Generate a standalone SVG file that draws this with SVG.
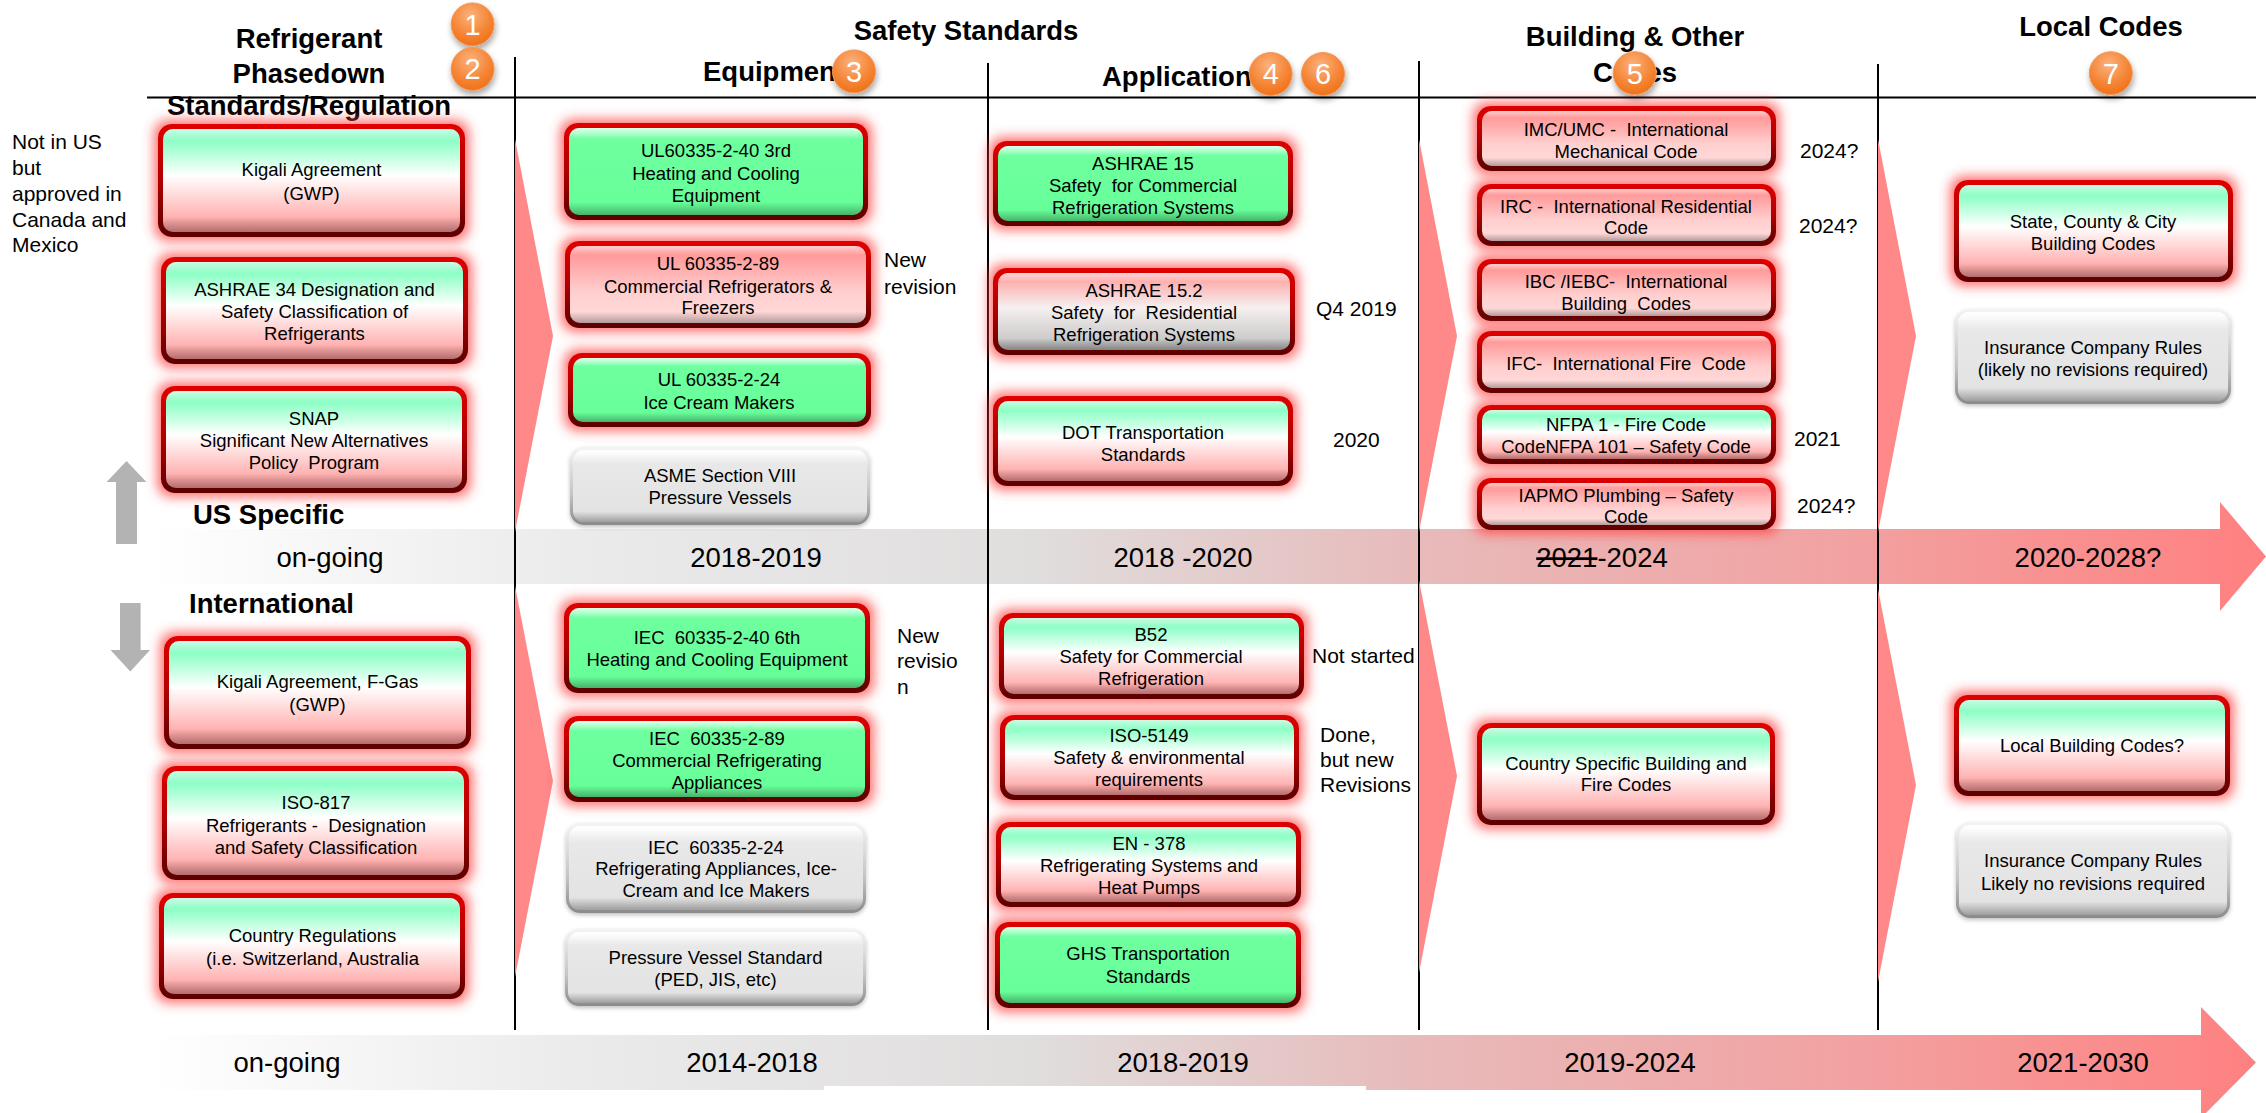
<svg xmlns="http://www.w3.org/2000/svg" width="2266" height="1113" viewBox="0 0 2266 1113">
<defs>
<style>
text{font-family:"Liberation Sans",Arial,sans-serif;fill:#000}
.h{font-size:27.5px;font-weight:bold}
.hm{font-size:27.5px;font-weight:bold;text-anchor:middle}
.t{font-size:27.5px;text-anchor:middle}
.b{font-size:18.5px;text-anchor:middle}
.a{font-size:21px}
.n{font-size:29px;fill:#fff;text-anchor:middle}
.rr{fill:url(#rimR);filter:url(#glow)}
.rg{fill:url(#rimG);filter:url(#dsh)}
.bv{fill:url(#bev)}
.vl{stroke:#000;stroke-width:2;fill:none}
.chev{fill:#ff8888}
.arr{fill:#b3b3b3}
.circ{fill:url(#org);stroke:#f39a5c;stroke-width:1;filter:url(#sh)}
</style>
<linearGradient id="band" gradientUnits="userSpaceOnUse" x1="150" y1="0" x2="2266" y2="0">
<stop offset="0" stop-color="#ffffff"/>
<stop offset="0.2" stop-color="#ebebeb"/>
<stop offset="0.42" stop-color="#e0dddd"/>
<stop offset="0.6" stop-color="#e8baba"/>
<stop offset="0.8" stop-color="#f2a2a2"/>
<stop offset="1" stop-color="#ff8080"/>
</linearGradient>
<linearGradient id="rimR" x1="0" y1="0" x2="0" y2="1">
<stop offset="0" stop-color="#e00000"/>
<stop offset="0.5" stop-color="#b00000"/>
<stop offset="1" stop-color="#5a0000"/>
</linearGradient>
<linearGradient id="rimG" x1="0" y1="0" x2="0" y2="1">
<stop offset="0" stop-color="#f4f4f4"/>
<stop offset="0.6" stop-color="#c4c4c4"/>
<stop offset="1" stop-color="#8a8a8a"/>
</linearGradient>
<linearGradient id="bev" x1="0" y1="0" x2="0" y2="1">
<stop offset="0" stop-color="#fff" stop-opacity="0.6"/>
<stop offset="0.12" stop-color="#fff" stop-opacity="0"/>
<stop offset="0.85" stop-color="#000" stop-opacity="0"/>
<stop offset="1" stop-color="#000" stop-opacity="0.3"/>
</linearGradient>
<linearGradient id="mwp" x1="0" y1="0" x2="0" y2="1">
<stop offset="0" stop-color="#7ff7bd"/>
<stop offset="0.12" stop-color="#8dffc6"/>
<stop offset="0.45" stop-color="#ffffff"/>
<stop offset="0.85" stop-color="#ffb3b3"/>
<stop offset="1" stop-color="#ff9c9c"/>
</linearGradient>
<linearGradient id="grn" x1="0" y1="0" x2="0" y2="1">
<stop offset="0" stop-color="#a5ffc9"/>
<stop offset="0.14" stop-color="#6eff9f"/>
<stop offset="1" stop-color="#66ff99"/>
</linearGradient>
<linearGradient id="pnk" x1="0" y1="0" x2="0" y2="1">
<stop offset="0" stop-color="#ff8f8f"/>
<stop offset="0.15" stop-color="#ff9d9d"/>
<stop offset="0.6" stop-color="#ffcfcf"/>
<stop offset="1" stop-color="#ffdcdc"/>
</linearGradient>
<linearGradient id="pwg" x1="0" y1="0" x2="0" y2="1">
<stop offset="0" stop-color="#ff9a9a"/>
<stop offset="0.45" stop-color="#f6f0f0"/>
<stop offset="1" stop-color="#bdbdbd"/>
</linearGradient>
<linearGradient id="gry" x1="0" y1="0" x2="0" y2="1">
<stop offset="0" stop-color="#ffffff"/>
<stop offset="0.2" stop-color="#e8e8e8"/>
<stop offset="1" stop-color="#e2e2e2"/>
</linearGradient>
<radialGradient id="org" cx="0.45" cy="0.3" r="0.75">
<stop offset="0" stop-color="#fbb27e"/>
<stop offset="0.6" stop-color="#f58535"/>
<stop offset="1" stop-color="#ee6e14"/>
</radialGradient>
<filter id="glow" x="-15%" y="-40%" width="130%" height="180%">
<feMorphology in="SourceAlpha" operator="dilate" radius="4" result="d"/>
<feGaussianBlur in="d" stdDeviation="6" result="b"/>
<feFlood flood-color="#ff4040" flood-opacity="0.75" result="c"/>
<feComposite in="c" in2="b" operator="in" result="g"/>
<feMerge><feMergeNode in="g"/><feMergeNode in="SourceGraphic"/></feMerge>
</filter>
<filter id="dsh" x="-10%" y="-20%" width="120%" height="150%">
<feGaussianBlur in="SourceAlpha" stdDeviation="2"/>
<feOffset dx="0" dy="2" result="o"/>
<feComponentTransfer><feFuncA type="linear" slope="0.25"/></feComponentTransfer>
<feMerge><feMergeNode/><feMergeNode in="SourceGraphic"/></feMerge>
</filter>
<filter id="sh" x="-50%" y="-50%" width="200%" height="200%">
<feGaussianBlur in="SourceAlpha" stdDeviation="3"/>
<feOffset dx="1" dy="4" result="o"/>
<feComponentTransfer><feFuncA type="linear" slope="0.35"/></feComponentTransfer>
<feMerge><feMergeNode/><feMergeNode in="SourceGraphic"/></feMerge>
</filter>
</defs>
<rect width="2266" height="1113" fill="#fff"/>

<g id="timeline-bands">
<path d="M150,529 H2220 V502 L2266,556.5 L2220,611 V584 H150 Z" fill="url(#band)"/>
<path d="M150,1035 H2201 V1007 L2256,1062.5 L2201,1118 V1090 H150 Z" fill="url(#band)"/>
<rect x="824" y="1086" width="542" height="6" fill="#fff"/>
</g>

<g id="connectors">
<line class="vl" x1="147" y1="97.5" x2="2256" y2="97.5"/>
<line class="vl" x1="515" y1="57" x2="515" y2="1030"/>
<line class="vl" x1="988" y1="63" x2="988" y2="1030"/>
<line class="vl" x1="1419" y1="61" x2="1419" y2="1030"/>
<line class="vl" x1="1878" y1="64" x2="1878" y2="1030"/>
<polygon class="chev" points="515,139 553,336 515,532"/>
<polygon class="chev" points="515,586 553,781 515,977"/>
<polygon class="chev" points="1419,139 1457,336 1419,532"/>
<polygon class="chev" points="1419,580 1457,776 1419,973"/>
<polygon class="chev" points="1878,139 1916,336 1878,532"/>
<polygon class="chev" points="1878,589 1916,785 1878,982"/>
<polygon class="arr" points="126.5,461 146.4,482 137,482 137,544 116,544 116,482 106.6,482"/>
<polygon class="arr" points="120,603 140.6,603 140.6,650 150,650 130.3,671.5 110.5,650 120,650"/>
</g>

<g id="headers">
<text class="hm" x="309" y="48">Refrigerant</text>
<text class="hm" x="309" y="83">Phasedown</text>
<text class="hm" x="309" y="115">Standards/Regulation</text>
<text class="hm" x="966" y="40">Safety Standards</text>
<text class="h" x="703" y="81">Equipment</text>
<text class="h" x="1102" y="86">Application</text>
<text class="hm" x="1635" y="46">Building &amp; Other</text>
<text class="hm" x="1635" y="82">Codes</text>
<text class="hm" x="2101" y="36">Local Codes</text>
<text class="h" x="193" y="524">US Specific</text>
<text class="h" x="189" y="613">International</text>
</g>

<g id="timeline-labels">
<text class="t" x="330" y="567">on-going</text>
<text class="t" x="756" y="567">2018-2019</text>
<text class="t" x="1183" y="567">2018 -2020</text>
<text class="t" x="1602" y="567"><tspan text-decoration="line-through">2021</tspan>-2024</text>
<text class="t" x="2088" y="567">2020-2028?</text>
<text class="t" x="287" y="1072">on-going</text>
<text class="t" x="752" y="1072">2014-2018</text>
<text class="t" x="1183" y="1072">2018-2019</text>
<text class="t" x="1630" y="1072">2019-2024</text>
<text class="t" x="2083" y="1072">2021-2030</text>
</g>

<g id="annotations">
<text class="a" x="12" y="149">Not in US</text>
<text class="a" x="12" y="175">but</text>
<text class="a" x="12" y="201">approved in</text>
<text class="a" x="12" y="227">Canada and</text>
<text class="a" x="12" y="252">Mexico</text>
<text class="a" x="884" y="267">New</text>
<text class="a" x="884" y="293.5">revision</text>
<text class="a" x="1316" y="316">Q4 2019</text>
<text class="a" x="1333" y="447">2020</text>
<text class="a" x="1800" y="158">2024?</text>
<text class="a" x="1799" y="233">2024?</text>
<text class="a" x="1794" y="446">2021</text>
<text class="a" x="1797" y="513">2024?</text>
<text class="a" x="897" y="643">New</text>
<text class="a" x="897" y="668">revisio</text>
<text class="a" x="897" y="693.5">n</text>
<text class="a" x="1312" y="663">Not started</text>
<text class="a" x="1320" y="742">Done,</text>
<text class="a" x="1320" y="767">but new</text>
<text class="a" x="1320" y="792">Revisions</text>
</g>

<g id="n-kigali-us"><rect class="rr" x="158" y="124" width="307" height="113" rx="14"/><rect x="163" y="129" width="297" height="103" rx="10" fill="url(#mwp)"/><rect class="bv" x="163" y="129" width="297" height="103" rx="10"/><text class="b"><tspan x="311.5" y="176">Kigali Agreement</tspan><tspan x="311.5" y="200">(GWP)</tspan></text></g>
<g id="n-ashrae34"><rect class="rr" x="161" y="257" width="307" height="107" rx="14"/><rect x="166" y="262" width="297" height="97" rx="10" fill="url(#mwp)"/><rect class="bv" x="166" y="262" width="297" height="97" rx="10"/><text class="b"><tspan x="314.5" y="296">ASHRAE 34 Designation and</tspan><tspan x="314.5" y="318">Safety Classification of</tspan><tspan x="314.5" y="340">Refrigerants</tspan></text></g>
<g id="n-snap"><rect class="rr" x="161" y="386" width="306" height="107" rx="14"/><rect x="166" y="391" width="296" height="97" rx="10" fill="url(#mwp)"/><rect class="bv" x="166" y="391" width="296" height="97" rx="10"/><text class="b" xml:space="preserve"><tspan x="314" y="425">SNAP</tspan><tspan x="314" y="447">Significant New Alternatives</tspan><tspan x="314" y="469">Policy  Program</tspan></text></g>

<g id="n-ul-2-40"><rect class="rr" x="564" y="123" width="304" height="97" rx="14"/><rect x="569" y="128" width="294" height="87" rx="10" fill="url(#grn)"/><rect class="bv" x="569" y="128" width="294" height="87" rx="10"/><text class="b"><tspan x="716" y="157">UL60335-2-40 3rd</tspan><tspan x="716" y="180">Heating and Cooling</tspan><tspan x="716" y="202">Equipment</tspan></text></g>
<g id="n-ul-2-89"><rect class="rr" x="565" y="241" width="306" height="87" rx="14"/><rect x="570" y="246" width="296" height="77" rx="10" fill="url(#pnk)"/><rect class="bv" x="570" y="246" width="296" height="77" rx="10"/><text class="b"><tspan x="718" y="270">UL 60335-2-89</tspan><tspan x="718" y="293">Commercial Refrigerators &amp;</tspan><tspan x="718" y="314">Freezers</tspan></text></g>
<g id="n-ul-2-24"><rect class="rr" x="568" y="353" width="303" height="74" rx="14"/><rect x="573" y="358" width="293" height="64" rx="10" fill="url(#grn)"/><rect class="bv" x="573" y="358" width="293" height="64" rx="10"/><text class="b"><tspan x="719" y="386">UL 60335-2-24</tspan><tspan x="719" y="409">Ice Cream Makers</tspan></text></g>
<g id="n-asme"><rect class="rg" x="570" y="447" width="300" height="78" rx="14"/><rect x="573" y="450" width="294" height="72" rx="11" fill="url(#gry)"/><rect class="bv" x="573" y="450" width="294" height="72" rx="11"/><text class="b"><tspan x="720" y="482">ASME Section VIII</tspan><tspan x="720" y="504">Pressure Vessels</tspan></text></g>

<g id="n-ashrae15"><rect class="rr" x="993" y="141" width="300" height="85" rx="14"/><rect x="998" y="146" width="290" height="75" rx="10" fill="url(#grn)"/><rect class="bv" x="998" y="146" width="290" height="75" rx="10"/><text class="b" xml:space="preserve"><tspan x="1143" y="170">ASHRAE 15</tspan><tspan x="1143" y="192">Safety  for Commercial</tspan><tspan x="1143" y="213.5">Refrigeration Systems</tspan></text></g>
<g id="n-ashrae15-2"><rect class="rr" x="993" y="268" width="302" height="87" rx="14"/><rect x="998" y="273" width="292" height="77" rx="10" fill="url(#pwg)"/><rect class="bv" x="998" y="273" width="292" height="77" rx="10"/><text class="b" xml:space="preserve"><tspan x="1144" y="297">ASHRAE 15.2</tspan><tspan x="1144" y="318.5">Safety  for  Residential</tspan><tspan x="1144" y="340.5">Refrigeration Systems</tspan></text></g>
<g id="n-dot"><rect class="rr" x="993" y="396" width="300" height="90" rx="14"/><rect x="998" y="401" width="290" height="80" rx="10" fill="url(#mwp)"/><rect class="bv" x="998" y="401" width="290" height="80" rx="10"/><text class="b"><tspan x="1143" y="438.5">DOT Transportation</tspan><tspan x="1143" y="460.5">Standards</tspan></text></g>

<g id="n-imc"><rect class="rr" x="1477" y="106" width="299" height="65" rx="14"/><rect x="1482" y="111" width="289" height="55" rx="10" fill="url(#pnk)"/><rect class="bv" x="1482" y="111" width="289" height="55" rx="10"/><text class="b" xml:space="preserve"><tspan x="1626" y="136.4">IMC/UMC -  International</tspan><tspan x="1626" y="157.8">Mechanical Code</tspan></text></g>
<g id="n-irc"><rect class="rr" x="1477" y="184" width="299" height="62" rx="14"/><rect x="1482" y="189" width="289" height="52" rx="10" fill="url(#pnk)"/><rect class="bv" x="1482" y="189" width="289" height="52" rx="10"/><text class="b" xml:space="preserve"><tspan x="1626" y="212.5">IRC -  International Residential</tspan><tspan x="1626" y="234">Code</tspan></text></g>
<g id="n-ibc"><rect class="rr" x="1477" y="259" width="299" height="62" rx="14"/><rect x="1482" y="264" width="289" height="52" rx="10" fill="url(#pnk)"/><rect class="bv" x="1482" y="264" width="289" height="52" rx="10"/><text class="b" xml:space="preserve"><tspan x="1626" y="287.5">IBC /IEBC-  International</tspan><tspan x="1626" y="309.6">Building  Codes</tspan></text></g>
<g id="n-ifc"><rect class="rr" x="1477" y="331" width="299" height="62" rx="14"/><rect x="1482" y="336" width="289" height="52" rx="10" fill="url(#pnk)"/><rect class="bv" x="1482" y="336" width="289" height="52" rx="10"/><text class="b" xml:space="preserve" x="1626" y="369.6">IFC-  International Fire  Code</text></g>
<g id="n-nfpa"><rect class="rr" x="1477" y="405" width="299" height="59" rx="14"/><rect x="1482" y="410" width="289" height="49" rx="10" fill="url(#mwp)"/><rect class="bv" x="1482" y="410" width="289" height="49" rx="10"/><text class="b"><tspan x="1626" y="431">NFPA 1 - Fire Code</tspan><tspan x="1626" y="452.8">CodeNFPA 101 – Safety Code</tspan></text></g>
<g id="n-iapmo"><rect class="rr" x="1477" y="478" width="299" height="52" rx="14"/><rect x="1482" y="483" width="289" height="42" rx="10" fill="url(#pnk)"/><rect class="bv" x="1482" y="483" width="289" height="42" rx="10"/><text class="b"><tspan x="1626" y="501.7">IAPMO Plumbing – Safety</tspan><tspan x="1626" y="523">Code</tspan></text></g>

<g id="n-state"><rect class="rr" x="1954" y="180" width="279" height="102" rx="14"/><rect x="1959" y="185" width="269" height="92" rx="10" fill="url(#mwp)"/><rect class="bv" x="1959" y="185" width="269" height="92" rx="10"/><text class="b"><tspan x="2093" y="227.5">State, County &amp; City</tspan><tspan x="2093" y="250">Building Codes</tspan></text></g>
<g id="n-insurance-us"><rect class="rg" x="1955" y="309" width="276" height="95" rx="14"/><rect x="1958" y="312" width="270" height="89" rx="11" fill="url(#gry)"/><rect class="bv" x="1958" y="312" width="270" height="89" rx="11"/><text class="b"><tspan x="2093" y="353.5">Insurance Company Rules</tspan><tspan x="2093" y="375.5">(likely no revisions required)</tspan></text></g>

<g id="n-kigali-fgas"><rect class="rr" x="164" y="636" width="307" height="113" rx="14"/><rect x="169" y="641" width="297" height="103" rx="10" fill="url(#mwp)"/><rect class="bv" x="169" y="641" width="297" height="103" rx="10"/><text class="b"><tspan x="317.5" y="688">Kigali Agreement, F-Gas</tspan><tspan x="317.5" y="711">(GWP)</tspan></text></g>
<g id="n-iso817"><rect class="rr" x="162" y="766" width="307" height="114" rx="14"/><rect x="167" y="771" width="297" height="104" rx="10" fill="url(#mwp)"/><rect class="bv" x="167" y="771" width="297" height="104" rx="10"/><text class="b" xml:space="preserve"><tspan x="316" y="808.6">ISO-817</tspan><tspan x="316" y="831.6">Refrigerants -  Designation</tspan><tspan x="316" y="853.5">and Safety Classification</tspan></text></g>
<g id="n-country-reg"><rect class="rr" x="159" y="893" width="306" height="106" rx="14"/><rect x="164" y="898" width="296" height="96" rx="10" fill="url(#mwp)"/><rect class="bv" x="164" y="898" width="296" height="96" rx="10"/><text class="b"><tspan x="312.5" y="942">Country Regulations</tspan><tspan x="312.5" y="964.6">(i.e. Switzerland, Australia</tspan></text></g>

<g id="n-iec-2-40"><rect class="rr" x="564" y="603" width="306" height="90" rx="14"/><rect x="569" y="608" width="296" height="80" rx="10" fill="url(#grn)"/><rect class="bv" x="569" y="608" width="296" height="80" rx="10"/><text class="b" xml:space="preserve"><tspan x="717" y="644">IEC  60335-2-40 6th</tspan><tspan x="717" y="666">Heating and Cooling Equipment</tspan></text></g>
<g id="n-iec-2-89"><rect class="rr" x="564" y="716" width="306" height="86" rx="14"/><rect x="569" y="721" width="296" height="76" rx="10" fill="url(#grn)"/><rect class="bv" x="569" y="721" width="296" height="76" rx="10"/><text class="b" xml:space="preserve"><tspan x="717" y="744.6">IEC  60335-2-89</tspan><tspan x="717" y="766.5">Commercial Refrigerating</tspan><tspan x="717" y="789">Appliances</tspan></text></g>
<g id="n-iec-2-24"><rect class="rg" x="566" y="823" width="300" height="90" rx="14"/><rect x="569" y="826" width="294" height="84" rx="11" fill="url(#gry)"/><rect class="bv" x="569" y="826" width="294" height="84" rx="11"/><text class="b" xml:space="preserve"><tspan x="716" y="853.5">IEC  60335-2-24</tspan><tspan x="716" y="875.4">Refrigerating Appliances, Ice-</tspan><tspan x="716" y="897.4">Cream and Ice Makers</tspan></text></g>
<g id="n-pressure"><rect class="rg" x="565" y="929" width="301" height="77" rx="14"/><rect x="568" y="932" width="295" height="71" rx="11" fill="url(#gry)"/><rect class="bv" x="568" y="932" width="295" height="71" rx="11"/><text class="b"><tspan x="715.5" y="964">Pressure Vessel Standard</tspan><tspan x="715.5" y="986">(PED, JIS, etc)</tspan></text></g>

<g id="n-b52"><rect class="rr" x="999" y="613" width="305" height="86" rx="14"/><rect x="1004" y="618" width="295" height="76" rx="10" fill="url(#mwp)"/><rect class="bv" x="1004" y="618" width="295" height="76" rx="10"/><text class="b"><tspan x="1151" y="641">B52</tspan><tspan x="1151" y="663">Safety for Commercial</tspan><tspan x="1151" y="685">Refrigeration</tspan></text></g>
<g id="n-iso5149"><rect class="rr" x="1000" y="715" width="299" height="85" rx="14"/><rect x="1005" y="720" width="289" height="75" rx="10" fill="url(#mwp)"/><rect class="bv" x="1005" y="720" width="289" height="75" rx="10"/><text class="b"><tspan x="1149" y="742">ISO-5149</tspan><tspan x="1149" y="764">Safety &amp; environmental</tspan><tspan x="1149" y="786">requirements</tspan></text></g>
<g id="n-en378"><rect class="rr" x="996" y="822" width="305" height="85" rx="14"/><rect x="1001" y="827" width="295" height="75" rx="10" fill="url(#mwp)"/><rect class="bv" x="1001" y="827" width="295" height="75" rx="10"/><text class="b"><tspan x="1149" y="850">EN - 378</tspan><tspan x="1149" y="872">Refrigerating Systems and</tspan><tspan x="1149" y="894.4">Heat Pumps</tspan></text></g>
<g id="n-ghs"><rect class="rr" x="995" y="922" width="306" height="86" rx="14"/><rect x="1000" y="927" width="296" height="76" rx="10" fill="url(#grn)"/><rect class="bv" x="1000" y="927" width="296" height="76" rx="10"/><text class="b"><tspan x="1148" y="960">GHS Transportation</tspan><tspan x="1148" y="983">Standards</tspan></text></g>

<g id="n-country-codes"><rect class="rr" x="1477" y="723" width="298" height="102" rx="14"/><rect x="1482" y="728" width="288" height="92" rx="10" fill="url(#mwp)"/><rect class="bv" x="1482" y="728" width="288" height="92" rx="10"/><text class="b"><tspan x="1626" y="769.5">Country Specific Building and</tspan><tspan x="1626" y="791.4">Fire Codes</tspan></text></g>

<g id="n-local-building"><rect class="rr" x="1954" y="695" width="276" height="101" rx="14"/><rect x="1959" y="700" width="266" height="91" rx="10" fill="url(#mwp)"/><rect class="bv" x="1959" y="700" width="266" height="91" rx="10"/><text class="b" x="2092" y="752">Local Building Codes?</text></g>
<g id="n-insurance-intl"><rect class="rg" x="1956" y="822" width="274" height="96" rx="14"/><rect x="1959" y="825" width="268" height="90" rx="11" fill="url(#gry)"/><rect class="bv" x="1959" y="825" width="268" height="90" rx="11"/><text class="b"><tspan x="2093" y="867">Insurance Company Rules</tspan><tspan x="2093" y="889.7">Likely no revisions required</tspan></text></g>

<g id="n-badge-1"><circle class="circ" cx="472.6" cy="24.4" r="21.5"/><text class="n" x="472.6" y="34.8">1</text></g>
<g id="n-badge-2"><circle class="circ" cx="472.6" cy="69" r="21.5"/><text class="n" x="472.6" y="79.4">2</text></g>
<g id="n-badge-3"><circle class="circ" cx="854" cy="71.4" r="21.5"/><text class="n" x="854" y="81.8">3</text></g>
<g id="n-badge-4"><circle class="circ" cx="1270.7" cy="74" r="21.5"/><text class="n" x="1270.7" y="84.4">4</text></g>
<g id="n-badge-5"><circle class="circ" cx="1634.7" cy="73.2" r="21.5"/><text class="n" x="1634.7" y="83.6">5</text></g>
<g id="n-badge-6"><circle class="circ" cx="1323" cy="74" r="21.5"/><text class="n" x="1323" y="84.4">6</text></g>
<g id="n-badge-7"><circle class="circ" cx="2110.8" cy="73.2" r="21.5"/><text class="n" x="2110.8" y="83.6">7</text></g>
</svg>
